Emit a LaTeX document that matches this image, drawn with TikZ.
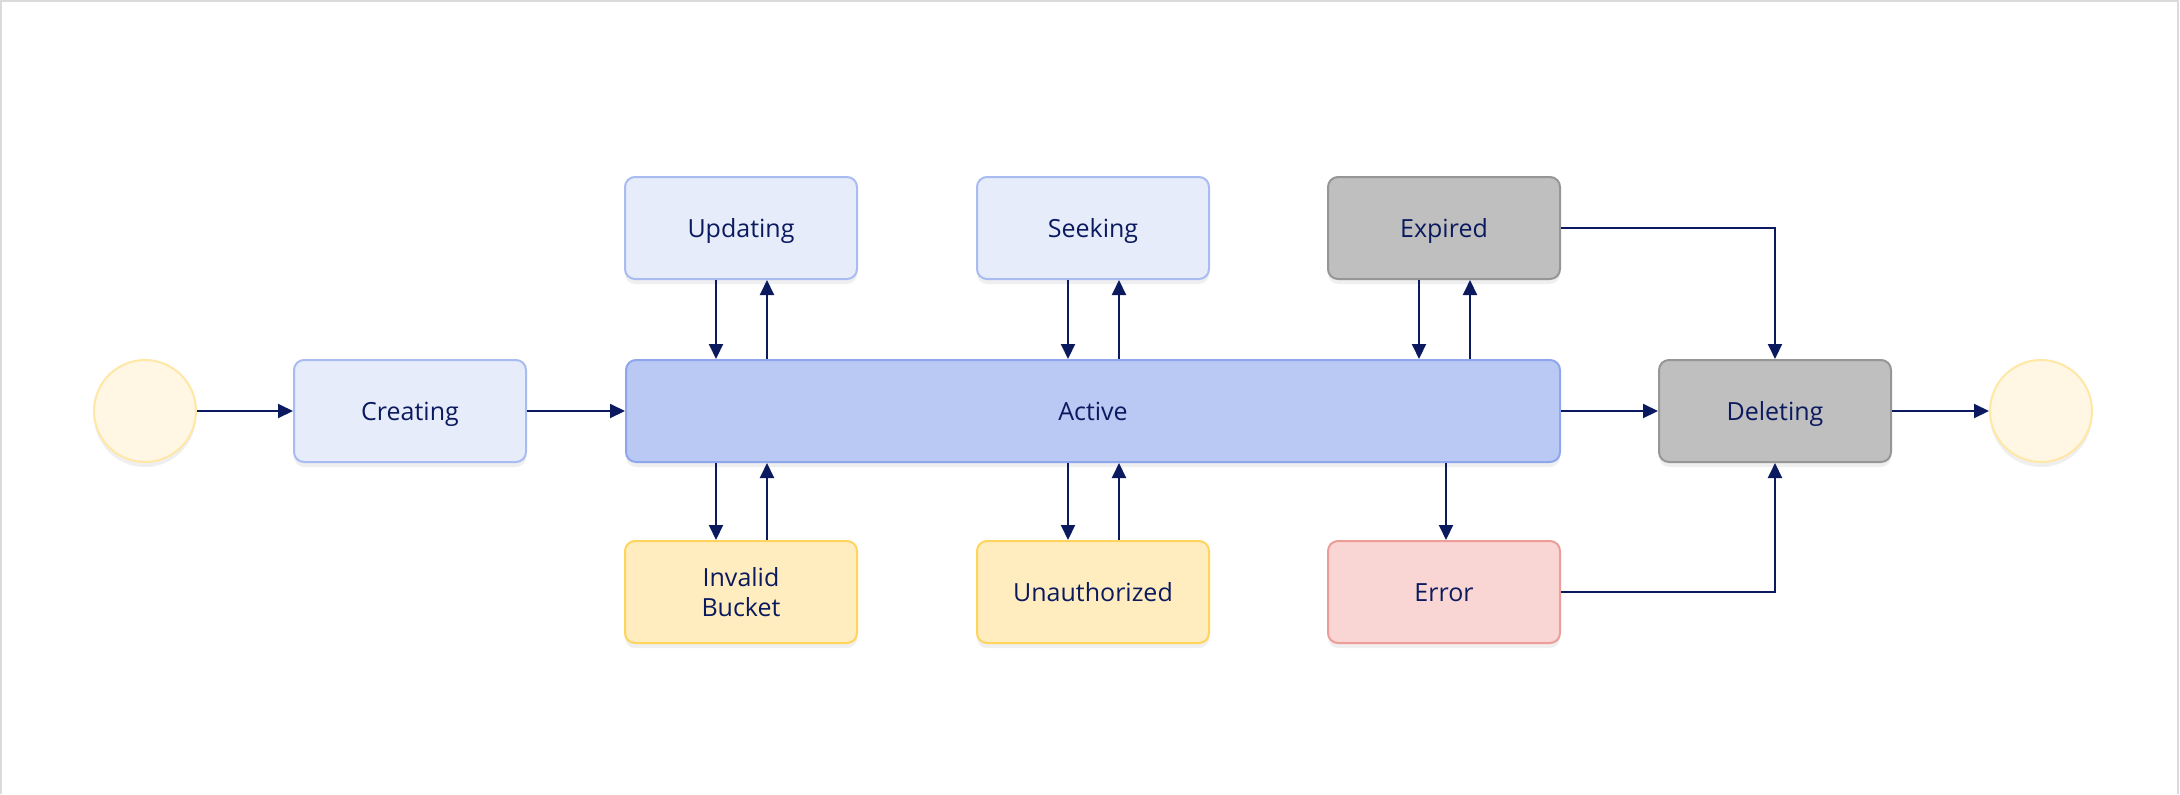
\documentclass[tikz,border=0pt]{standalone}
\usepackage{fontspec}
\setmainfont{Open Sans}
\usepackage{xcolor}
\usetikzlibrary{arrows.meta,positioning,shadows,calc}

\definecolor{navy}{HTML}{0B1A5E}
\definecolor{frameline}{HTML}{DADADA}
\definecolor{cream}{HTML}{FFF7E3}
\definecolor{creamline}{HTML}{FFE7A6}
\definecolor{paleblue}{HTML}{E6ECFA}
\definecolor{paleblueline}{HTML}{A9BCF1}
\definecolor{activeblue}{HTML}{B9C9F4}
\definecolor{activeline}{HTML}{8EA7EC}
\definecolor{greybox}{HTML}{BFBFBF}
\definecolor{greyline}{HTML}{969696}
\definecolor{warnfill}{HTML}{FFEDBF}
\definecolor{warnline}{HTML}{FFD45E}
\definecolor{errfill}{HTML}{F9D6D4}
\definecolor{errline}{HTML}{EE9C97}

\tikzset{
  state/.style={draw, line width=1pt, rounded corners=5pt, minimum width=116pt,
    minimum height=51pt, align=center, text=navy, font=\fontsize{12.5}{15}\selectfont,
    text height=9pt, text depth=0pt,
    drop shadow={opacity=0.12, shadow xshift=0pt, shadow yshift=-2.5pt}},
  bluestate/.style={state, fill=paleblue, draw=paleblueline},
  greystate/.style={state, fill=greybox, draw=greyline},
  warnstate/.style={state, fill=warnfill, draw=warnline},
  errstate/.style={state, fill=errfill, draw=errline},
  terminal/.style={circle, draw=creamline, fill=cream, line width=1pt, minimum size=51pt,
    inner sep=0pt, drop shadow={opacity=0.12, shadow xshift=0pt, shadow yshift=-2.5pt}},
  arr/.style={draw=navy, line width=1pt, -{Triangle[length=7.5pt,width=7pt]}}
}

\begin{document}
\begin{tikzpicture}[x=0.5pt, y=-0.5pt]
% Frame.
\useasboundingbox (0,0) rectangle (2180,794);
\fill[white] (0,0) rectangle (2180,794);
\draw[frameline, line width=1.2pt] (1,794) -- (1,1) -- (2178,1) -- (2178,794);

% Draw states.
\node[terminal] (start) at (145,411) {};
\node[bluestate] (create) at (410,411) {Creating};
\node[state, fill=activeblue, draw=activeline, minimum width=467pt] (act) at (1093,411) {Active};
\node[bluestate] (upd) at (741,228) {Updating};
\node[bluestate] (seek) at (1093,228) {Seeking};
\node[greystate] (exp) at (1444,228) {Expired};
\node[warnstate, text height=24pt] (inv) at (741,592) {Invalid\\Bucket};
\node[warnstate] (unauth) at (1093,592) {Unauthorized};
\node[errstate] (err) at (1444,592) {Error};
\node[greystate] (del) at (1775,411) {Deleting};
\node[terminal] (stop) at (2041,411) {};

% Main line.
\draw[arr] (start) -- (create);
\draw[arr] (create) -- (act);
\draw[arr] (act) -- (del);
\draw[arr] (del) -- (stop);

% Round trips above and below Active.
\foreach \s in {upd,seek,exp} {
  \draw[arr] ([xshift=-12.5pt]\s.south) -- ([xshift=-12.5pt]\s.south |- act.north);
  \draw[arr] ([xshift=13pt]\s.south |- act.north) -- ([xshift=13pt]\s.south);
}
\foreach \s in {inv,unauth} {
  \draw[arr] ([xshift=-12.5pt]\s.north |- act.south) -- ([xshift=-12.5pt]\s.north);
  \draw[arr] ([xshift=13pt]\s.north) -- ([xshift=13pt]\s.north |- act.south);
}
\draw[arr] ([xshift=1pt]err.north |- act.south) -- ([xshift=1pt]err.north);

% To Deleting.
\draw[arr] (exp.east) -| (del.north);
\draw[arr] (err.east) -| (del.south);
\end{tikzpicture}
\end{document}
